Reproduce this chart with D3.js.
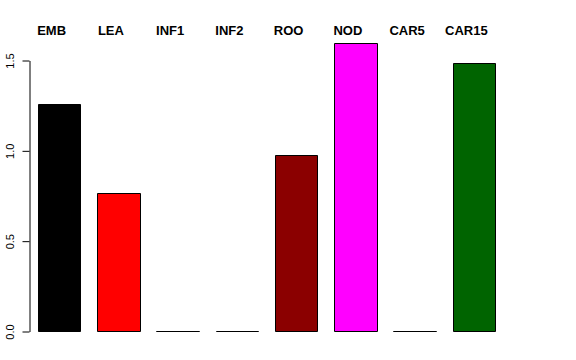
<!DOCTYPE html>
<html>
<head>
<meta charset="utf-8">
<script src="https://cdn.jsdelivr.net/npm/d3@7"></script>
<style>
  body { margin: 0; background: #fff; }
  svg { display: block; font-family: "Liberation Sans", Arial, Helvetica, sans-serif; }
</style>
</head>
<body>
<div id="chart"></div>
<script>
// tissues, one bar each
var categories = ["EMB", "LEA", "INF1", "INF2", "ROO", "NOD", "CAR5", "CAR15"];
var values     = [1.255, 0.763, 0, 0, 0.975, 1.595, 0, 1.483];
var colors     = ["#000000", "#ff0000", "#00cd00", "#0000ff", "#8b0000", "#ff00ff", "#00bfff", "#006400"];
var yTicks     = [0, 0.5, 1.0, 1.5];

var W = 576, H = 360;
var svg = d3.select("#chart").append("svg").attr("width", W).attr("height", H);

// scales, R barplot style (space = 0.4)
var x = d3.scaleBand().domain(categories).range([38, 495]).paddingInner(0.4 / 1.4).paddingOuter(0);
var y = d3.scaleLinear().domain([0, 1.5]).range([331, 60]);

// bars drawn as paths so that zero bars still show their outline
svg.append("g")
  .selectAll("path")
  .data(categories)
  .enter().append("path")
  .attr("d", function(d, i){
      var x0 = Math.round(x(d)) + 0.5, x1 = Math.round(x(d) + x.bandwidth()) + 0.5;
      var y0 = Math.round(y(0)) + 0.5, y1 = Math.round(y(values[i])) + 0.5;
      return "M" + x0 + "," + y0 + "V" + y1 + "H" + x1 + "V" + y0 + "Z";
  })
  .attr("fill", function(d, i){ return values[i] > 0 ? colors[i] : "none"; })
  .attr("stroke", "#000")
  .attr("stroke-width", 1);

// category names on top
svg.append("g")
  .selectAll("text")
  .data(categories)
  .enter().append("text")
  .text(function(d){ return d; })
  .attr("x", function(d){ return x(d) + x.bandwidth() / 2 - 7.5; })
  .attr("y", 34.5)
  .attr("text-anchor", "middle")
  .attr("font-size", 13)
  .attr("font-weight", "bold")
  .attr("fill", "#000");

// y axis
var axis = svg.append("g")
  .attr("transform", "translate(29.5,0.5)")
  .call(d3.axisLeft(y).tickValues(yTicks).tickSize(7).tickSizeOuter(0).tickFormat(d3.format(".1f")));
axis.select(".domain").attr("stroke", "#000");
axis.selectAll(".tick line").attr("stroke", "#000");
axis.selectAll(".tick text")
  .attr("font-size", 11)
  .attr("font-family", "Liberation Sans, Arial, sans-serif")
  .attr("fill", "#000")
  .attr("text-anchor", "middle")
  .attr("x", null).attr("dy", null)
  .attr("transform", "translate(-16,0) rotate(-90)");
</script>
</body>
</html>
